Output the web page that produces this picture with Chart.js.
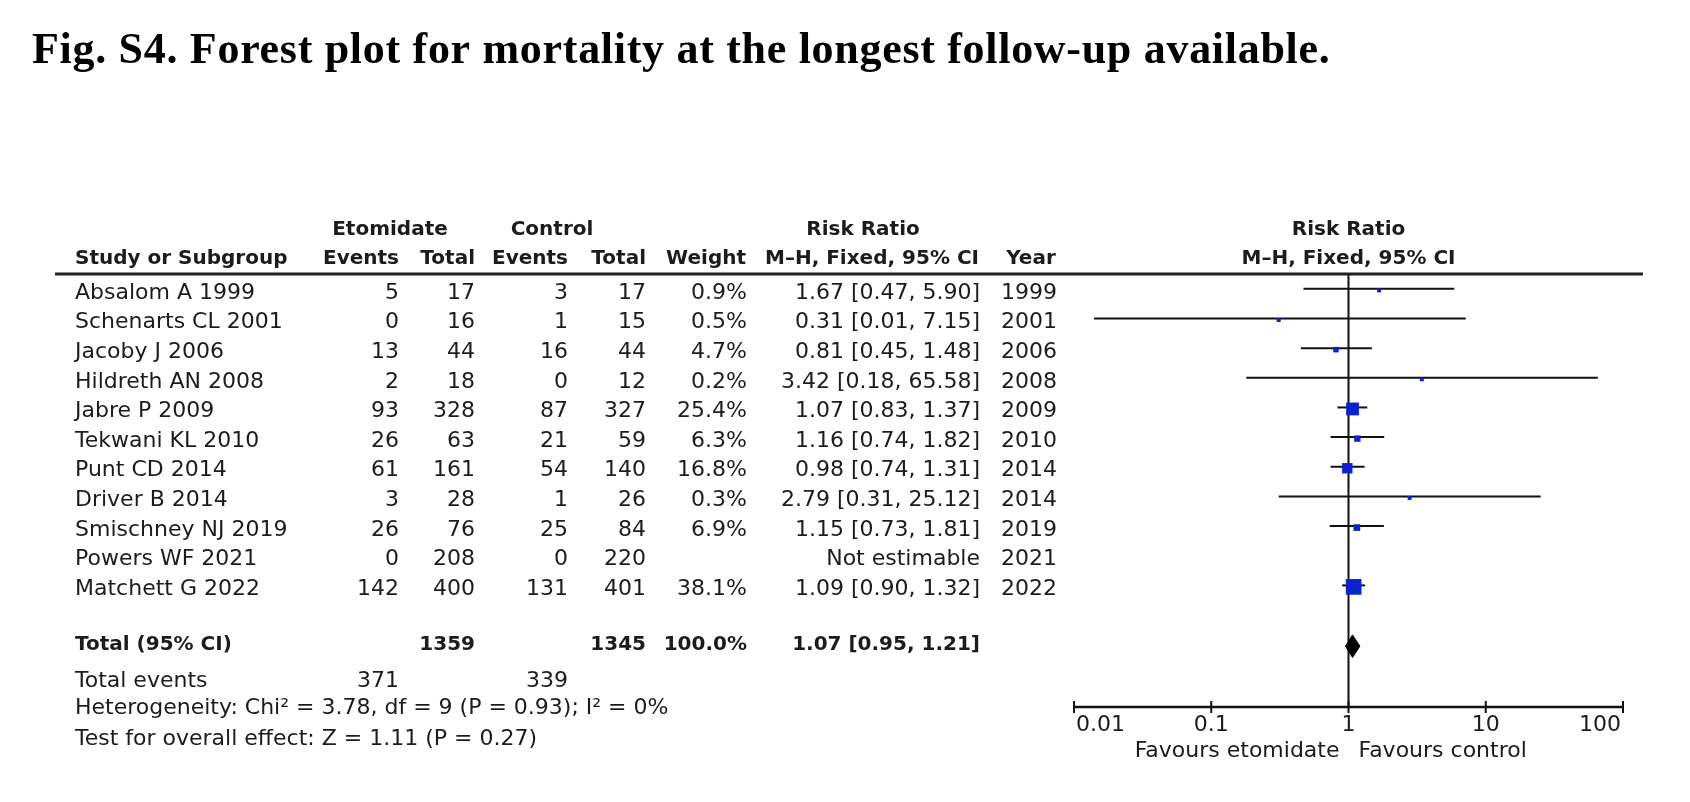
<!DOCTYPE html>
<html>
<head>
<meta charset="utf-8">
<title>Forest plot for mortality</title>
<script src="https://cdn.jsdelivr.net/npm/chart.js@4.4.1/dist/chart.umd.min.js"></script>
<style>
  html, body { margin: 0; padding: 0; background: #fff; }
  #forest { display: block; }
</style>
</head>
<body>
<canvas id="forest" width="1690" height="802"></canvas>
<script>
// study table
const studies = ['Absalom A 1999', 'Schenarts CL 2001', 'Jacoby J 2006', 'Hildreth AN 2008', 'Jabre P 2009',
    'Tekwani KL 2010', 'Punt CD 2014', 'Driver B 2014', 'Smischney NJ 2019', 'Powers WF 2021', 'Matchett G 2022'];
const etoEvents = [5, 0, 13, 2, 93, 26, 61, 3, 26, 0, 142];
const etoTotal = [17, 16, 44, 18, 328, 63, 161, 28, 76, 208, 400];
const ctlEvents = [3, 1, 16, 0, 87, 21, 54, 1, 25, 0, 131];
const ctlTotal = [17, 15, 44, 12, 327, 59, 140, 26, 84, 220, 401];
const weights = [0.9, 0.5, 4.7, 0.2, 25.4, 6.3, 16.8, 0.3, 6.9, null, 38.1];
const riskRatio = [1.67, 0.31, 0.81, 3.42, 1.07, 1.16, 0.98, 2.79, 1.15, null, 1.09];
const ciLow = [0.47, 0.014, 0.45, 0.18, 0.83, 0.74, 0.74, 0.31, 0.73, null, 0.90];
const ciHigh = [5.90, 7.15, 1.48, 65.58, 1.37, 1.82, 1.31, 25.12, 1.81, null, 1.32];
const years = [1999, 2001, 2006, 2008, 2009, 2010, 2014, 2014, 2019, 2021, 2022];

// pooled result
const totalRR = [1.07, 0.95, 1.21];      // estimate, lower, upper
const totalN = [1359, 1345];
const totalEvents = [371, 339];
const totalWeight = '100.0%';
const heterogeneity = 'Heterogeneity: Chi\u00b2 = 3.78, df = 9 (P = 0.93); I\u00b2 = 0%';
const overallTest = 'Test for overall effect: Z = 1.11 (P = 0.27)';

// axis
const axisTicks = [0.01, 0.1, 1, 10, 100];
const axisTickLabels = ['0.01', '0.1', '1', '10', '100'];
const favours = ['Favours etomidate', 'Favours control'];

const FONT = '"DejaVu Sans", "Noto Sans", sans-serif';
const INK = '#1c1c1c';
const BLUE = '#0b22cc';

const ciDatasets = [];
studies.forEach((s, i) => {
    if (ciLow[i] === null) return;
    ciDatasets.push({
        label: s,
        data: [{ x: ciLow[i], y: i }, { x: ciHigh[i], y: i }],
        showLine: true,
        borderColor: '#111',
        borderWidth: 2,
        pointRadius: 0,
        order: 3
    });
});

const squares = [];
const squareRadius = [];
studies.forEach((s, i) => {
    if (riskRatio[i] === null) return;
    squares.push({ x: riskRatio[i], y: i + 0.05 });
    const side = Math.max(4, 2.54 * Math.sqrt(weights[i]));
    squareRadius.push(side / Math.SQRT2);
});

const diamondH = 0.38;
const totalRow = 12.05;

const tablePlugin = {
    id: 'forestTable',
    afterDraw(chart) {
        const { ctx, scales: { x, y } } = chart;
        const rowY = (r) => y.getPixelForValue(r);

        function txt(str, px, py, align, bold) {
            ctx.font = (bold ? 'bold 20px ' : '22px ') + FONT;
            ctx.textAlign = align;
            ctx.textBaseline = 'middle';
            ctx.fillStyle = INK;
            ctx.fillText(str, px, py);
        }

        ctx.save();

        // title
        ctx.font = 'bold 44px "Liberation Serif", "Times New Roman", serif';
        ctx.letterSpacing = '0.7px';
        ctx.textAlign = 'left';
        ctx.textBaseline = 'alphabetic';
        ctx.fillStyle = '#000';
        ctx.fillText('Fig. S4. Forest plot for mortality at the longest follow-up available.', 32, 63);
        ctx.letterSpacing = '0px';

        // column headers
        const h1 = rowY(-2), h2 = rowY(-1);
        txt('Etomidate', 390, h1, 'center', true);
        txt('Control', 552, h1, 'center', true);
        txt('Risk Ratio', 863, h1, 'center', true);
        txt('Risk Ratio', x.getPixelForValue(1), h1, 'center', true);
        txt('Study or Subgroup', 75, h2, 'left', true);
        txt('Events', 399, h2, 'right', true);
        txt('Total', 475, h2, 'right', true);
        txt('Events', 568, h2, 'right', true);
        txt('Total', 646, h2, 'right', true);
        txt('Weight', 746, h2, 'right', true);
        txt('M\u2013H, Fixed, 95% CI', 979, h2, 'right', true);
        txt('Year', 1031, h2, 'center', true);
        txt('M\u2013H, Fixed, 95% CI', x.getPixelForValue(1), h2, 'center', true);

        // header rule
        ctx.strokeStyle = '#222';
        ctx.lineWidth = 3;
        ctx.beginPath();
        ctx.moveTo(55, rowY(-0.5));
        ctx.lineTo(1643, rowY(-0.5));
        ctx.stroke();

        // study rows
        studies.forEach((s, i) => {
            const py = rowY(i) + 4;
            txt(s, 75, py, 'left');
            txt(String(etoEvents[i]), 399, py, 'right');
            txt(String(etoTotal[i]), 475, py, 'right');
            txt(String(ctlEvents[i]), 568, py, 'right');
            txt(String(ctlTotal[i]), 646, py, 'right');
            if (weights[i] !== null) txt(weights[i].toFixed(1) + '%', 747, py, 'right');
            const rrText = riskRatio[i] === null ? 'Not estimable'
                : riskRatio[i].toFixed(2) + ' [' + ciLow[i].toFixed(2) + ', ' + ciHigh[i].toFixed(2) + ']';
            txt(rrText, 980, py, 'right');
            txt(String(years[i]), 1029, py, 'center');
        });

        // totals
        const ty = rowY(12);
        txt('Total (95% CI)', 75, ty, 'left', true);
        txt(String(totalN[0]), 475, ty, 'right', true);
        txt(String(totalN[1]), 646, ty, 'right', true);
        txt(totalWeight, 747, ty, 'right', true);
        txt(totalRR[0].toFixed(2) + ' [' + totalRR[1].toFixed(2) + ', ' + totalRR[2].toFixed(2) + ']', 980, ty, 'right', true);
        const ey = rowY(13.22);
        txt('Total events', 75, ey, 'left');
        txt(String(totalEvents[0]), 399, ey, 'right');
        txt(String(totalEvents[1]), 568, ey, 'right');
        txt(heterogeneity, 75, rowY(14.13), 'left');
        txt(overallTest, 75, rowY(15.2), 'left');

        // x axis
        const ay = y.bottom;
        const ax0 = x.getPixelForValue(axisTicks[0]);
        const ax1 = x.getPixelForValue(axisTicks[axisTicks.length - 1]);
        ctx.strokeStyle = '#111';
        ctx.lineWidth = 2.5;
        ctx.beginPath();
        ctx.moveTo(ax0, ay);
        ctx.lineTo(ax1, ay);
        ctx.stroke();
        ctx.lineWidth = 2;
        axisTicks.forEach((t, k) => {
            const px = x.getPixelForValue(t);
            ctx.beginPath();
            ctx.moveTo(px, ay - 6);
            ctx.lineTo(px, ay + 6);
            ctx.stroke();
            let align = 'center', lx = px;
            if (k === 0) { align = 'left'; lx = px + 2; }
            if (k === axisTicks.length - 1) { align = 'right'; lx = px - 2; }
            txt(axisTickLabels[k], lx, ay + 18, align);
        });
        const one = x.getPixelForValue(1);
        txt(favours[0], one - 9, ay + 44, 'right');
        txt(favours[1], one + 10, ay + 44, 'left');

        ctx.restore();
    }
};

new Chart(document.getElementById('forest'), {
    type: 'scatter',
    data: {
        datasets: [
            {
                label: 'Studies',
                data: squares,
                pointStyle: 'rect',
                pointRadius: squareRadius,
                pointBackgroundColor: BLUE,
                pointBorderWidth: 0,
                order: 0
            },
            {
                label: 'Total',
                data: [
                    { x: totalRR[1], y: totalRow },
                    { x: totalRR[0], y: totalRow - diamondH },
                    { x: totalRR[2], y: totalRow },
                    { x: totalRR[0], y: totalRow + diamondH },
                    { x: totalRR[1], y: totalRow }
                ],
                showLine: true,
                fill: 'shape',
                backgroundColor: '#000',
                borderColor: '#000',
                borderWidth: 1,
                pointRadius: 0,
                tension: 0,
                order: 1
            },
            ...ciDatasets,
            {
                label: 'No effect',
                data: [{ x: 1, y: -0.5 }, { x: 1, y: 14.1 }],
                showLine: true,
                borderColor: '#111',
                borderWidth: 2,
                pointRadius: 0,
                order: 4
            }
        ]
    },
    options: {
        responsive: false,
        animation: false,
        layout: { padding: { left: 1074, right: 67, top: 274, bottom: 95 } },
        scales: {
            x: { type: 'logarithmic', min: 0.01, max: 100, display: false },
            y: { type: 'linear', min: -0.5, max: 14.1, reverse: true, display: false }
        },
        plugins: {
            legend: { display: false },
            tooltip: { enabled: false }
        }
    },
    plugins: [tablePlugin]
});
</script>
</body>
</html>
